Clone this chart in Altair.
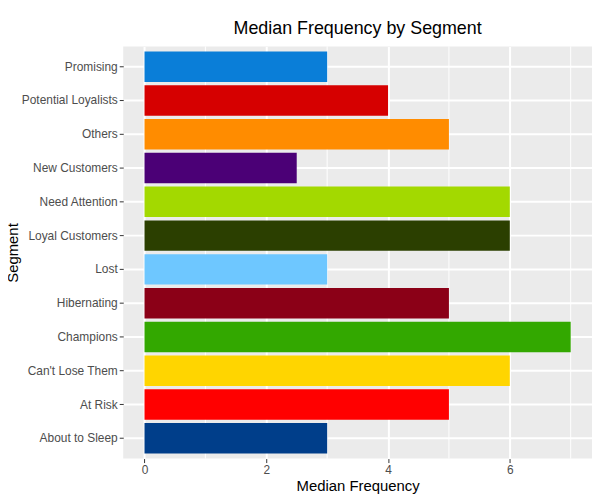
import altair as alt
import pandas as pd

segments = ["Promising", "Potential Loyalists", "Others", "New Customers",
            "Need Attention", "Loyal Customers", "Lost", "Hibernating",
            "Champions", "Can't Lose Them", "At Risk", "About to Sleep"]
median_freq = [3, 4, 5, 2.5, 6, 6, 3, 5, 7, 6, 5, 3]
colors = ["#0A7ED8", "#D60000", "#FF8C00", "#4B0076", "#A3D900", "#2B3F00",
          "#6EC7FF", "#8B0017", "#33A800", "#FFD500", "#FF0000", "#003E8A"]
major_breaks = [0, 2, 4, 6]
minor_breaks = [1, 3, 5, 7]

df = pd.DataFrame({"Segment": segments, "Median Frequency": median_freq})
minor_df = pd.DataFrame({"v": minor_breaks})

xscale = alt.Scale(domain=[-0.35, 7.35], nice=False, zero=False)
xaxis = alt.Axis(values=major_breaks, title="Median Frequency",
                 grid=True, gridColor="white", gridWidth=2,
                 domain=False, tickColor="#333333", tickSize=4,
                 tickWidth=1, labelColor="#4D4D4D", labelFontSize=12,
                 labelPadding=2, titleFontSize=15, titleColor="black",
                 titleFontWeight="normal", titlePadding=3)

minor = alt.Chart(minor_df).mark_rule(color="white", strokeWidth=1).encode(
    x=alt.X("v:Q", scale=xscale, axis=xaxis, title="Median Frequency")
)

bars = alt.Chart(df).mark_bar().encode(
    x=alt.X("Median Frequency:Q", scale=xscale, axis=xaxis),
    y=alt.Y("Segment:N", sort=segments,
            scale=alt.Scale(paddingInner=0.1, paddingOuter=0.15),
            axis=alt.Axis(title="Segment", grid=True, gridColor="white",
                          gridWidth=2, domain=False, tickColor="#333333",
                          tickSize=4, tickWidth=1, labelColor="#4D4D4D",
                          labelFontSize=12, labelPadding=2, bandPosition=0.5,
                          titleFontSize=15, titleColor="black",
                          titleFontWeight="normal", titleAngle=270,
                          titleBaseline="middle", titleAlign="center",
                          titleX=-111, titleY=207.5)),
    color=alt.Color("Segment:N", scale=alt.Scale(domain=segments, range=colors),
                    legend=None),
)

chart = alt.layer(minor, bars).properties(
    width=472, height=415,
    autosize=alt.AutoSizeParams(type="none"),
    padding={"left": 116, "top": 37, "right": 0, "bottom": 38},
    title=alt.Title("Median Frequency by Segment", fontSize=18,
                    fontWeight="normal", color="black", anchor="middle",
                    offset=8),
).configure(font="Liberation Sans").configure_view(
    fill="#EBEBEB", stroke=None
)

chart.save("out.html", embed_options={"renderer": "svg", "actions": False})
